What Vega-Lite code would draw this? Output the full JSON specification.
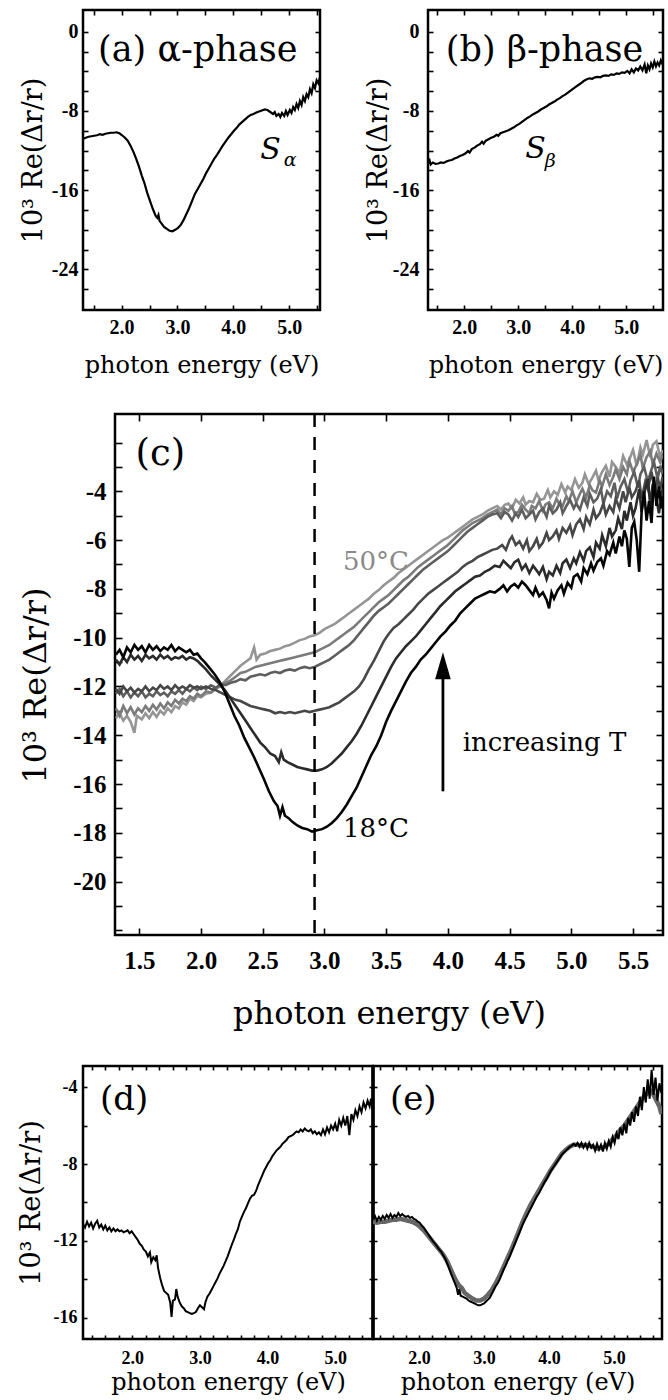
{
"$schema": "https://vega.github.io/schema/vega-lite/v6.json",
"background": "white",
"padding": {"left": 15, "top": 7, "right": 2, "bottom": 2},
"autosize": {"type": "pad"},
"datasets": {
"a": [{"E":1.31,"R":-10.8},{"E":1.36,"R":-10.7},{"E":1.41,"R":-10.6},{"E":1.46,"R":-10.55},{"E":1.51,"R":-10.5},{"E":1.56,"R":-10.45},{"E":1.61,"R":-10.35},{"E":1.66,"R":-10.4},{"E":1.71,"R":-10.3},{"E":1.76,"R":-10.25},{"E":1.81,"R":-10.2},{"E":1.86,"R":-10.2},{"E":1.91,"R":-10.15},{"E":1.96,"R":-10.25},{"E":2.01,"R":-10.45},{"E":2.06,"R":-10.7},{"E":2.11,"R":-11.0},{"E":2.16,"R":-11.5},{"E":2.21,"R":-12.1},{"E":2.26,"R":-12.8},{"E":2.31,"R":-13.6},{"E":2.36,"R":-14.5},{"E":2.41,"R":-15.3},{"E":2.46,"R":-16.3},{"E":2.51,"R":-17.1},{"E":2.56,"R":-17.9},{"E":2.61,"R":-18.6},{"E":2.64,"R":-18.8},{"E":2.66,"R":-18.5},{"E":2.68,"R":-19.1},{"E":2.72,"R":-19.4},{"E":2.76,"R":-19.7},{"E":2.81,"R":-19.9},{"E":2.86,"R":-20.1},{"E":2.91,"R":-20.15},{"E":2.96,"R":-20.0},{"E":3.01,"R":-19.8},{"E":3.06,"R":-19.5},{"E":3.11,"R":-19.0},{"E":3.16,"R":-18.4},{"E":3.21,"R":-17.8},{"E":3.26,"R":-17.1},{"E":3.31,"R":-16.4},{"E":3.36,"R":-15.9},{"E":3.41,"R":-15.4},{"E":3.46,"R":-14.9},{"E":3.51,"R":-14.3},{"E":3.56,"R":-13.8},{"E":3.61,"R":-13.3},{"E":3.66,"R":-12.8},{"E":3.71,"R":-12.4},{"E":3.76,"R":-11.95},{"E":3.81,"R":-11.5},{"E":3.86,"R":-11.1},{"E":3.91,"R":-10.7},{"E":3.96,"R":-10.35},{"E":4.01,"R":-10.0},{"E":4.06,"R":-9.7},{"E":4.11,"R":-9.35},{"E":4.16,"R":-9.1},{"E":4.21,"R":-8.85},{"E":4.26,"R":-8.6},{"E":4.31,"R":-8.4},{"E":4.36,"R":-8.3},{"E":4.41,"R":-8.15},{"E":4.46,"R":-8.05},{"E":4.51,"R":-7.95},{"E":4.56,"R":-7.85},{"E":4.61,"R":-7.9},{"E":4.66,"R":-8.1},{"E":4.71,"R":-8.3},{"E":4.74,"R":-8.1},{"E":4.77,"R":-8.5},{"E":4.81,"R":-8.3},{"E":4.84,"R":-8.6},{"E":4.87,"R":-8.2},{"E":4.91,"R":-8.5},{"E":4.94,"R":-8.0},{"E":4.97,"R":-8.4},{"E":5.01,"R":-7.9},{"E":5.04,"R":-8.2},{"E":5.07,"R":-7.6},{"E":5.1,"R":-7.9},{"E":5.13,"R":-7.3},{"E":5.16,"R":-7.7},{"E":5.19,"R":-7.0},{"E":5.22,"R":-7.4},{"E":5.25,"R":-6.6},{"E":5.28,"R":-7.0},{"E":5.31,"R":-6.3},{"E":5.34,"R":-6.6},{"E":5.37,"R":-5.8},{"E":5.4,"R":-6.2},{"E":5.43,"R":-5.3},{"E":5.46,"R":-5.7},{"E":5.49,"R":-4.9},{"E":5.52,"R":-5.2},{"E":5.55,"R":-4.6}],
"b": [{"E":1.33,"R":-13.3},{"E":1.36,"R":-13.0},{"E":1.38,"R":-13.4},{"E":1.42,"R":-13.2},{"E":1.47,"R":-13.35},{"E":1.52,"R":-13.3},{"E":1.57,"R":-13.2},{"E":1.62,"R":-13.25},{"E":1.67,"R":-13.1},{"E":1.72,"R":-13.0},{"E":1.77,"R":-12.95},{"E":1.82,"R":-12.8},{"E":1.87,"R":-12.7},{"E":1.92,"R":-12.55},{"E":1.97,"R":-12.45},{"E":2.02,"R":-12.3},{"E":2.07,"R":-12.05},{"E":2.1,"R":-12.2},{"E":2.14,"R":-11.85},{"E":2.19,"R":-11.7},{"E":2.24,"R":-11.5},{"E":2.29,"R":-11.35},{"E":2.33,"R":-11.1},{"E":2.36,"R":-11.3},{"E":2.4,"R":-11.0},{"E":2.45,"R":-10.85},{"E":2.5,"R":-10.7},{"E":2.55,"R":-10.6},{"E":2.6,"R":-10.4},{"E":2.63,"R":-10.5},{"E":2.67,"R":-10.25},{"E":2.72,"R":-10.15},{"E":2.77,"R":-10.05},{"E":2.82,"R":-9.95},{"E":2.87,"R":-9.8},{"E":2.92,"R":-9.65},{"E":2.97,"R":-9.45},{"E":3.02,"R":-9.3},{"E":3.07,"R":-9.1},{"E":3.12,"R":-8.9},{"E":3.17,"R":-8.7},{"E":3.22,"R":-8.55},{"E":3.27,"R":-8.35},{"E":3.32,"R":-8.2},{"E":3.37,"R":-8.05},{"E":3.42,"R":-7.85},{"E":3.47,"R":-7.7},{"E":3.52,"R":-7.55},{"E":3.57,"R":-7.35},{"E":3.62,"R":-7.2},{"E":3.67,"R":-7.05},{"E":3.72,"R":-6.85},{"E":3.77,"R":-6.7},{"E":3.82,"R":-6.5},{"E":3.87,"R":-6.35},{"E":3.92,"R":-6.15},{"E":3.97,"R":-5.95},{"E":4.02,"R":-5.75},{"E":4.07,"R":-5.55},{"E":4.12,"R":-5.35},{"E":4.17,"R":-5.15},{"E":4.22,"R":-4.95},{"E":4.27,"R":-4.8},{"E":4.32,"R":-4.7},{"E":4.37,"R":-4.75},{"E":4.42,"R":-4.6},{"E":4.47,"R":-4.55},{"E":4.52,"R":-4.6},{"E":4.57,"R":-4.45},{"E":4.62,"R":-4.4},{"E":4.67,"R":-4.45},{"E":4.72,"R":-4.3},{"E":4.77,"R":-4.35},{"E":4.82,"R":-4.2},{"E":4.87,"R":-4.25},{"E":4.92,"R":-4.1},{"E":4.97,"R":-4.15},{"E":5.02,"R":-3.95},{"E":5.06,"R":-4.2},{"E":5.1,"R":-3.8},{"E":5.14,"R":-4.1},{"E":5.18,"R":-3.7},{"E":5.22,"R":-3.9},{"E":5.26,"R":-3.5},{"E":5.3,"R":-3.9},{"E":5.34,"R":-3.3},{"E":5.37,"R":-4.2},{"E":5.4,"R":-3.4},{"E":5.43,"R":-3.8},{"E":5.46,"R":-3.2},{"E":5.49,"R":-3.6},{"E":5.52,"R":-3.0},{"E":5.55,"R":-3.5},{"E":5.58,"R":-3.1},{"E":5.61,"R":-3.4},{"E":5.64,"R":-2.9},{"E":5.67,"R":-3.3}],
"c": [
{"k":1,"E":1.31,"R":-13.3},{"k":1,"E":1.34,"R":-13.1},{"k":1,"E":1.37,"R":-13.4},{"k":1,"E":1.4,"R":-13.2},{"k":1,"E":1.43,"R":-13.45},{"k":1,"E":1.46,"R":-13.9},{"k":1,"E":1.48,"R":-13.2},{"k":1,"E":1.52,"R":-13.35},{"k":1,"E":1.55,"R":-13.1},{"k":1,"E":1.58,"R":-13.3},{"k":1,"E":1.61,"R":-13.05},{"k":1,"E":1.64,"R":-13.25},{"k":1,"E":1.67,"R":-13.0},{"k":1,"E":1.7,"R":-13.15},{"k":1,"E":1.73,"R":-12.9},{"k":1,"E":1.76,"R":-13.05},{"k":1,"E":1.79,"R":-12.8},{"k":1,"E":1.82,"R":-12.9},{"k":1,"E":1.85,"R":-12.65},{"k":1,"E":1.88,"R":-12.75},{"k":1,"E":1.91,"R":-12.5},{"k":1,"E":1.94,"R":-12.6},{"k":1,"E":1.97,"R":-12.4},{"k":1,"E":2.0,"R":-12.45},{"k":1,"E":2.04,"R":-12.3},{"k":1,"E":2.08,"R":-12.25},{"k":1,"E":2.12,"R":-12.1},{"k":1,"E":2.16,"R":-11.95},{"k":1,"E":2.2,"R":-11.75},{"k":1,"E":2.24,"R":-11.55},{"k":1,"E":2.28,"R":-11.35},{"k":1,"E":2.32,"R":-11.15},{"k":1,"E":2.36,"R":-11.0},{"k":1,"E":2.4,"R":-10.85},{"k":1,"E":2.43,"R":-10.4},{"k":1,"E":2.45,"R":-10.9},{"k":1,"E":2.48,"R":-10.7},{"k":1,"E":2.52,"R":-10.65},{"k":1,"E":2.56,"R":-10.55},{"k":1,"E":2.6,"R":-10.5},{"k":1,"E":2.64,"R":-10.45},{"k":1,"E":2.68,"R":-10.35},{"k":1,"E":2.72,"R":-10.3},{"k":1,"E":2.76,"R":-10.2},{"k":1,"E":2.8,"R":-10.1},{"k":1,"E":2.84,"R":-10.05},{"k":1,"E":2.88,"R":-9.95},{"k":1,"E":2.92,"R":-9.9},{"k":1,"E":2.96,"R":-9.8},{"k":1,"E":3.0,"R":-9.65},{"k":1,"E":3.04,"R":-9.55},{"k":1,"E":3.08,"R":-9.45},{"k":1,"E":3.12,"R":-9.3},{"k":1,"E":3.16,"R":-9.15},{"k":1,"E":3.2,"R":-9.0},{"k":1,"E":3.24,"R":-8.85},{"k":1,"E":3.28,"R":-8.7},{"k":1,"E":3.32,"R":-8.55},{"k":1,"E":3.36,"R":-8.4},{"k":1,"E":3.4,"R":-8.2},{"k":1,"E":3.44,"R":-8.05},{"k":1,"E":3.48,"R":-7.85},{"k":1,"E":3.52,"R":-7.7},{"k":1,"E":3.56,"R":-7.55},{"k":1,"E":3.6,"R":-7.35},{"k":1,"E":3.64,"R":-7.2},{"k":1,"E":3.68,"R":-7.05},{"k":1,"E":3.72,"R":-6.9},{"k":1,"E":3.76,"R":-6.75},{"k":1,"E":3.8,"R":-6.6},{"k":1,"E":3.84,"R":-6.45},{"k":1,"E":3.88,"R":-6.3},{"k":1,"E":3.92,"R":-6.15},{"k":1,"E":3.96,"R":-6.0},{"k":1,"E":4.0,"R":-5.9},{"k":1,"E":4.04,"R":-5.75},{"k":1,"E":4.08,"R":-5.6},{"k":1,"E":4.12,"R":-5.45},{"k":1,"E":4.16,"R":-5.3},{"k":1,"E":4.2,"R":-5.15},{"k":1,"E":4.24,"R":-5.05},{"k":1,"E":4.28,"R":-4.95},{"k":1,"E":4.32,"R":-4.8},{"k":1,"E":4.36,"R":-4.7},
{"k":1,"E":4.4,"R":-4.6},{"k":1,"E":4.43,"R":-4.75},{"k":1,"E":4.46,"R":-4.55},{"k":1,"E":4.49,"R":-4.5},{"k":1,"E":4.52,"R":-4.7},{"k":1,"E":4.55,"R":-4.35},{"k":1,"E":4.58,"R":-4.5},{"k":1,"E":4.61,"R":-4.25},{"k":1,"E":4.63,"R":-4.55},{"k":1,"E":4.66,"R":-4.4},{"k":1,"E":4.69,"R":-4.45},{"k":1,"E":4.72,"R":-4.1},{"k":1,"E":4.75,"R":-4.35},{"k":1,"E":4.78,"R":-4.3},{"k":1,"E":4.81,"R":-3.95},{"k":1,"E":4.83,"R":-4.25},{"k":1,"E":4.86,"R":-4.0},{"k":1,"E":4.89,"R":-4.15},{"k":1,"E":4.92,"R":-3.7},{"k":1,"E":4.95,"R":-4.05},{"k":1,"E":4.97,"R":-3.8},{"k":1,"E":5.0,"R":-3.95},{"k":1,"E":5.03,"R":-3.5},{"k":1,"E":5.06,"R":-3.85},{"k":1,"E":5.09,"R":-3.65},{"k":1,"E":5.11,"R":-3.3},{"k":1,"E":5.14,"R":-3.7},{"k":1,"E":5.17,"R":-3.45},{"k":1,"E":5.2,"R":-3.15},{"k":1,"E":5.22,"R":-3.55},{"k":1,"E":5.25,"R":-3.2},{"k":1,"E":5.28,"R":-2.95},{"k":1,"E":5.31,"R":-3.4},{"k":1,"E":5.33,"R":-2.8},{"k":1,"E":5.36,"R":-3.0},{"k":1,"E":5.39,"R":-3.25},{"k":1,"E":5.42,"R":-2.55},{"k":1,"E":5.45,"R":-2.9},{"k":1,"E":5.47,"R":-2.7},{"k":1,"E":5.5,"R":-2.3},{"k":1,"E":5.53,"R":-2.95},{"k":1,"E":5.56,"R":-2.2},{"k":1,"E":5.58,"R":-2.5},{"k":1,"E":5.61,"R":-1.9},{"k":1,"E":5.64,"R":-2.6},{"k":1,"E":5.66,"R":-2.1},{"k":1,"E":5.69,"R":-1.95},{"k":1,"E":5.72,"R":-2.6},{"k":1,"E":5.74,"R":-2.3},
{"k":2,"E":1.31,"R":-12.9},{"k":2,"E":1.34,"R":-13.2},{"k":2,"E":1.37,"R":-12.8},{"k":2,"E":1.4,"R":-13.1},{"k":2,"E":1.43,"R":-12.85},{"k":2,"E":1.46,"R":-13.15},{"k":2,"E":1.49,"R":-12.9},{"k":2,"E":1.52,"R":-13.05},{"k":2,"E":1.55,"R":-12.8},{"k":2,"E":1.58,"R":-13.0},{"k":2,"E":1.61,"R":-12.75},{"k":2,"E":1.64,"R":-12.95},{"k":2,"E":1.67,"R":-12.7},{"k":2,"E":1.7,"R":-12.9},{"k":2,"E":1.73,"R":-12.65},{"k":2,"E":1.76,"R":-12.8},{"k":2,"E":1.79,"R":-12.55},{"k":2,"E":1.82,"R":-12.7},{"k":2,"E":1.85,"R":-12.5},{"k":2,"E":1.88,"R":-12.6},{"k":2,"E":1.91,"R":-12.4},{"k":2,"E":1.94,"R":-12.5},{"k":2,"E":1.97,"R":-12.3},{"k":2,"E":2.0,"R":-12.4},{"k":2,"E":2.04,"R":-12.2},{"k":2,"E":2.08,"R":-12.25},{"k":2,"E":2.12,"R":-12.05},{"k":2,"E":2.16,"R":-12.0},{"k":2,"E":2.2,"R":-11.85},{"k":2,"E":2.24,"R":-11.75},{"k":2,"E":2.28,"R":-11.6},{"k":2,"E":2.32,"R":-11.45},{"k":2,"E":2.36,"R":-11.4},{"k":2,"E":2.4,"R":-11.3},{"k":2,"E":2.44,"R":-11.2},{"k":2,"E":2.48,"R":-11.15},{"k":2,"E":2.52,"R":-11.1},{"k":2,"E":2.56,"R":-11.05},{"k":2,"E":2.6,"R":-11.0},{"k":2,"E":2.64,"R":-10.95},{"k":2,"E":2.68,"R":-10.9},{"k":2,"E":2.72,"R":-10.85},{"k":2,"E":2.76,"R":-10.8},{"k":2,"E":2.8,"R":-10.75},{"k":2,"E":2.84,"R":-10.7},{"k":2,"E":2.88,"R":-10.65},{"k":2,"E":2.92,"R":-10.6},{"k":2,"E":2.96,"R":-10.5},{"k":2,"E":3.0,"R":-10.4},{"k":2,"E":3.04,"R":-10.3},{"k":2,"E":3.08,"R":-10.15},{"k":2,"E":3.12,"R":-10.0},{"k":2,"E":3.16,"R":-9.85},{"k":2,"E":3.2,"R":-9.7},{"k":2,"E":3.24,"R":-9.55},{"k":2,"E":3.28,"R":-9.35},{"k":2,"E":3.32,"R":-9.15},{"k":2,"E":3.36,"R":-8.95},{"k":2,"E":3.4,"R":-8.75},{"k":2,"E":3.44,"R":-8.55},{"k":2,"E":3.48,"R":-8.4},{"k":2,"E":3.52,"R":-8.25},{"k":2,"E":3.56,"R":-8.05},{"k":2,"E":3.6,"R":-7.85},{"k":2,"E":3.64,"R":-7.65},{"k":2,"E":3.68,"R":-7.5},{"k":2,"E":3.72,"R":-7.3},{"k":2,"E":3.76,"R":-7.1},{"k":2,"E":3.8,"R":-6.95},{"k":2,"E":3.84,"R":-6.8},{"k":2,"E":3.88,"R":-6.65},{"k":2,"E":3.92,"R":-6.5},{"k":2,"E":3.96,"R":-6.35},{"k":2,"E":4.0,"R":-6.2},{"k":2,"E":4.04,"R":-6.0},{"k":2,"E":4.08,"R":-5.8},{"k":2,"E":4.12,"R":-5.6},{"k":2,"E":4.16,"R":-5.45},{"k":2,"E":4.2,"R":-5.3},{"k":2,"E":4.24,"R":-5.2},{"k":2,"E":4.28,"R":-5.1},{"k":2,"E":4.32,"R":-4.95},{"k":2,"E":4.36,"R":-4.85},
{"k":2,"E":4.4,"R":-4.75},{"k":2,"E":4.43,"R":-4.95},{"k":2,"E":4.46,"R":-4.7},{"k":2,"E":4.49,"R":-4.8},{"k":2,"E":4.52,"R":-4.6},{"k":2,"E":4.54,"R":-4.9},{"k":2,"E":4.57,"R":-4.85},{"k":2,"E":4.6,"R":-4.55},{"k":2,"E":4.63,"R":-4.75},{"k":2,"E":4.66,"R":-4.9},{"k":2,"E":4.68,"R":-4.6},{"k":2,"E":4.71,"R":-4.7},{"k":2,"E":4.74,"R":-4.4},{"k":2,"E":4.77,"R":-4.8},{"k":2,"E":4.79,"R":-4.55},{"k":2,"E":4.82,"R":-4.45},{"k":2,"E":4.85,"R":-4.7},{"k":2,"E":4.88,"R":-4.3},{"k":2,"E":4.9,"R":-4.5},{"k":2,"E":4.93,"R":-4.6},{"k":2,"E":4.96,"R":-4.2},{"k":2,"E":4.98,"R":-4.4},{"k":2,"E":5.01,"R":-4.0},{"k":2,"E":5.04,"R":-4.45},{"k":2,"E":5.07,"R":-4.1},{"k":2,"E":5.09,"R":-3.9},{"k":2,"E":5.12,"R":-4.25},{"k":2,"E":5.15,"R":-3.75},{"k":2,"E":5.17,"R":-3.95},{"k":2,"E":5.2,"R":-4.05},{"k":2,"E":5.23,"R":-3.55},{"k":2,"E":5.25,"R":-3.8},{"k":2,"E":5.28,"R":-3.3},{"k":2,"E":5.31,"R":-3.75},{"k":2,"E":5.34,"R":-3.4},{"k":2,"E":5.36,"R":-3.1},{"k":2,"E":5.39,"R":-3.5},{"k":2,"E":5.42,"R":-3.0},{"k":2,"E":5.45,"R":-3.3},{"k":2,"E":5.47,"R":-2.75},{"k":2,"E":5.5,"R":-3.2},{"k":2,"E":5.53,"R":-2.9},{"k":2,"E":5.56,"R":-2.5},{"k":2,"E":5.58,"R":-3.05},{"k":2,"E":5.61,"R":-2.6},{"k":2,"E":5.64,"R":-2.35},{"k":2,"E":5.66,"R":-2.9},{"k":2,"E":5.69,"R":-2.45},{"k":2,"E":5.72,"R":-2.8},{"k":2,"E":5.74,"R":-2.5},
{"k":3,"E":1.31,"R":-12.3},{"k":3,"E":1.34,"R":-12.1},{"k":3,"E":1.37,"R":-12.4},{"k":3,"E":1.4,"R":-12.2},{"k":3,"E":1.43,"R":-12.45},{"k":3,"E":1.46,"R":-12.25},{"k":3,"E":1.49,"R":-12.4},{"k":3,"E":1.52,"R":-12.2},{"k":3,"E":1.55,"R":-12.45},{"k":3,"E":1.58,"R":-12.3},{"k":3,"E":1.61,"R":-12.4},{"k":3,"E":1.64,"R":-12.2},{"k":3,"E":1.67,"R":-12.35},{"k":3,"E":1.7,"R":-12.25},{"k":3,"E":1.73,"R":-12.4},{"k":3,"E":1.76,"R":-12.2},{"k":3,"E":1.79,"R":-12.3},{"k":3,"E":1.82,"R":-12.15},{"k":3,"E":1.85,"R":-12.3},{"k":3,"E":1.88,"R":-12.1},{"k":3,"E":1.91,"R":-12.2},{"k":3,"E":1.94,"R":-12.05},{"k":3,"E":1.97,"R":-12.15},{"k":3,"E":2.0,"R":-12.0},{"k":3,"E":2.04,"R":-12.1},{"k":3,"E":2.08,"R":-11.95},{"k":3,"E":2.12,"R":-12.05},{"k":3,"E":2.16,"R":-11.9},{"k":3,"E":2.2,"R":-11.95},{"k":3,"E":2.24,"R":-11.85},{"k":3,"E":2.28,"R":-11.8},{"k":3,"E":2.32,"R":-11.7},{"k":3,"E":2.36,"R":-11.75},{"k":3,"E":2.4,"R":-11.6},{"k":3,"E":2.44,"R":-11.55},{"k":3,"E":2.48,"R":-11.5},{"k":3,"E":2.52,"R":-11.55},{"k":3,"E":2.56,"R":-11.45},{"k":3,"E":2.6,"R":-11.4},{"k":3,"E":2.64,"R":-11.45},{"k":3,"E":2.68,"R":-11.35},{"k":3,"E":2.72,"R":-11.3},{"k":3,"E":2.76,"R":-11.35},{"k":3,"E":2.8,"R":-11.25},{"k":3,"E":2.84,"R":-11.2},{"k":3,"E":2.88,"R":-11.25},{"k":3,"E":2.92,"R":-11.2},{"k":3,"E":2.96,"R":-11.1},{"k":3,"E":3.0,"R":-11.0},{"k":3,"E":3.04,"R":-10.9},{"k":3,"E":3.08,"R":-10.75},{"k":3,"E":3.12,"R":-10.6},{"k":3,"E":3.16,"R":-10.45},{"k":3,"E":3.2,"R":-10.3},{"k":3,"E":3.24,"R":-10.1},{"k":3,"E":3.28,"R":-9.85},{"k":3,"E":3.32,"R":-9.6},{"k":3,"E":3.36,"R":-9.35},{"k":3,"E":3.4,"R":-9.1},{"k":3,"E":3.44,"R":-8.9},{"k":3,"E":3.48,"R":-8.75},{"k":3,"E":3.52,"R":-8.6},{"k":3,"E":3.56,"R":-8.4},{"k":3,"E":3.6,"R":-8.2},{"k":3,"E":3.64,"R":-8.0},{"k":3,"E":3.68,"R":-7.8},{"k":3,"E":3.72,"R":-7.6},{"k":3,"E":3.76,"R":-7.4},{"k":3,"E":3.8,"R":-7.2},{"k":3,"E":3.84,"R":-7.05},{"k":3,"E":3.88,"R":-6.9},{"k":3,"E":3.92,"R":-6.75},{"k":3,"E":3.96,"R":-6.6},{"k":3,"E":4.0,"R":-6.45},{"k":3,"E":4.04,"R":-6.25},{"k":3,"E":4.08,"R":-6.05},{"k":3,"E":4.12,"R":-5.85},{"k":3,"E":4.16,"R":-5.65},{"k":3,"E":4.2,"R":-5.5},{"k":3,"E":4.24,"R":-5.35},{"k":3,"E":4.28,"R":-5.2},{"k":3,"E":4.32,"R":-5.05},{"k":3,"E":4.36,"R":-4.95},
{"k":3,"E":4.4,"R":-4.9},{"k":3,"E":4.43,"R":-5.1},{"k":3,"E":4.46,"R":-4.85},{"k":3,"E":4.49,"R":-4.95},{"k":3,"E":4.52,"R":-5.2},{"k":3,"E":4.55,"R":-4.9},{"k":3,"E":4.57,"R":-5.05},{"k":3,"E":4.6,"R":-4.75},{"k":3,"E":4.63,"R":-5.1},{"k":3,"E":4.66,"R":-4.95},{"k":3,"E":4.69,"R":-4.8},{"k":3,"E":4.71,"R":-5.15},{"k":3,"E":4.74,"R":-4.85},{"k":3,"E":4.77,"R":-4.7},{"k":3,"E":4.8,"R":-5.05},{"k":3,"E":4.82,"R":-4.6},{"k":3,"E":4.85,"R":-4.9},{"k":3,"E":4.88,"R":-4.75},{"k":3,"E":4.91,"R":-4.45},{"k":3,"E":4.93,"R":-4.9},{"k":3,"E":4.96,"R":-4.6},{"k":3,"E":4.99,"R":-4.35},{"k":3,"E":5.02,"R":-4.7},{"k":3,"E":5.04,"R":-4.5},{"k":3,"E":5.07,"R":-4.75},{"k":3,"E":5.1,"R":-4.25},{"k":3,"E":5.13,"R":-4.6},{"k":3,"E":5.15,"R":-4.1},{"k":3,"E":5.18,"R":-4.45},{"k":3,"E":5.21,"R":-4.3},{"k":3,"E":5.24,"R":-3.9},{"k":3,"E":5.26,"R":-4.5},{"k":3,"E":5.29,"R":-4.0},{"k":3,"E":5.32,"R":-4.2},{"k":3,"E":5.35,"R":-3.65},{"k":3,"E":5.37,"R":-4.3},{"k":3,"E":5.4,"R":-3.8},{"k":3,"E":5.43,"R":-3.5},{"k":3,"E":5.46,"R":-4.05},{"k":3,"E":5.48,"R":-3.55},{"k":3,"E":5.51,"R":-3.2},{"k":3,"E":5.54,"R":-3.85},{"k":3,"E":5.56,"R":-3.3},{"k":3,"E":5.59,"R":-3.0},{"k":3,"E":5.62,"R":-3.6},{"k":3,"E":5.65,"R":-3.1},{"k":3,"E":5.67,"R":-2.8},{"k":3,"E":5.7,"R":-3.5},{"k":3,"E":5.72,"R":-2.95},{"k":3,"E":5.74,"R":-3.3},
{"k":4,"E":1.31,"R":-12.1},{"k":4,"E":1.34,"R":-12.3},{"k":4,"E":1.37,"R":-12.0},{"k":4,"E":1.4,"R":-12.2},{"k":4,"E":1.43,"R":-12.05},{"k":4,"E":1.46,"R":-12.25},{"k":4,"E":1.49,"R":-12.1},{"k":4,"E":1.52,"R":-12.2},{"k":4,"E":1.55,"R":-12.0},{"k":4,"E":1.58,"R":-12.2},{"k":4,"E":1.61,"R":-12.05},{"k":4,"E":1.64,"R":-12.15},{"k":4,"E":1.67,"R":-11.95},{"k":4,"E":1.7,"R":-12.1},{"k":4,"E":1.73,"R":-12.0},{"k":4,"E":1.76,"R":-12.15},{"k":4,"E":1.79,"R":-11.95},{"k":4,"E":1.82,"R":-12.1},{"k":4,"E":1.85,"R":-12.0},{"k":4,"E":1.88,"R":-12.1},{"k":4,"E":1.91,"R":-11.95},{"k":4,"E":1.94,"R":-12.05},{"k":4,"E":1.97,"R":-12.0},{"k":4,"E":2.0,"R":-12.1},{"k":4,"E":2.04,"R":-12.0},{"k":4,"E":2.08,"R":-12.1},{"k":4,"E":2.12,"R":-12.15},{"k":4,"E":2.16,"R":-12.25},{"k":4,"E":2.2,"R":-12.35},{"k":4,"E":2.24,"R":-12.45},{"k":4,"E":2.28,"R":-12.55},{"k":4,"E":2.32,"R":-12.6},{"k":4,"E":2.36,"R":-12.7},{"k":4,"E":2.4,"R":-12.8},{"k":4,"E":2.44,"R":-12.85},{"k":4,"E":2.48,"R":-12.9},{"k":4,"E":2.52,"R":-12.95},{"k":4,"E":2.56,"R":-13.0},{"k":4,"E":2.6,"R":-13.1},{"k":4,"E":2.64,"R":-13.05},{"k":4,"E":2.68,"R":-13.1},{"k":4,"E":2.72,"R":-13.05},{"k":4,"E":2.76,"R":-13.1},{"k":4,"E":2.8,"R":-13.05},{"k":4,"E":2.84,"R":-13.0},{"k":4,"E":2.88,"R":-13.05},{"k":4,"E":2.92,"R":-13.0},{"k":4,"E":2.96,"R":-12.95},{"k":4,"E":3.0,"R":-12.9},{"k":4,"E":3.04,"R":-12.85},{"k":4,"E":3.08,"R":-12.75},{"k":4,"E":3.12,"R":-12.65},{"k":4,"E":3.16,"R":-12.5},{"k":4,"E":3.2,"R":-12.35},{"k":4,"E":3.24,"R":-12.2},{"k":4,"E":3.28,"R":-12.0},{"k":4,"E":3.32,"R":-11.7},{"k":4,"E":3.36,"R":-11.3},{"k":4,"E":3.4,"R":-10.95},{"k":4,"E":3.44,"R":-10.55},{"k":4,"E":3.48,"R":-10.15},{"k":4,"E":3.52,"R":-9.85},{"k":4,"E":3.56,"R":-9.6},{"k":4,"E":3.6,"R":-9.45},{"k":4,"E":3.64,"R":-9.25},{"k":4,"E":3.68,"R":-9.05},{"k":4,"E":3.72,"R":-8.85},{"k":4,"E":3.76,"R":-8.6},{"k":4,"E":3.8,"R":-8.4},{"k":4,"E":3.84,"R":-8.2},{"k":4,"E":3.88,"R":-8.05},{"k":4,"E":3.92,"R":-7.9},{"k":4,"E":3.96,"R":-7.75},{"k":4,"E":4.0,"R":-7.6},{"k":4,"E":4.04,"R":-7.45},{"k":4,"E":4.08,"R":-7.3},{"k":4,"E":4.12,"R":-7.1},{"k":4,"E":4.16,"R":-6.95},{"k":4,"E":4.2,"R":-6.85},{"k":4,"E":4.24,"R":-6.7},{"k":4,"E":4.28,"R":-6.6},{"k":4,"E":4.32,"R":-6.5},{"k":4,"E":4.36,"R":-6.4},
{"k":4,"E":4.4,"R":-6.35},{"k":4,"E":4.44,"R":-6.2},{"k":4,"E":4.47,"R":-6.4},{"k":4,"E":4.5,"R":-6.0},{"k":4,"E":4.52,"R":-5.85},{"k":4,"E":4.55,"R":-6.2},{"k":4,"E":4.58,"R":-6.05},{"k":4,"E":4.61,"R":-6.35},{"k":4,"E":4.64,"R":-6.0},{"k":4,"E":4.66,"R":-6.45},{"k":4,"E":4.69,"R":-6.25},{"k":4,"E":4.72,"R":-5.95},{"k":4,"E":4.74,"R":-6.3},{"k":4,"E":4.77,"R":-6.1},{"k":4,"E":4.8,"R":-5.7},{"k":4,"E":4.82,"R":-6.0},{"k":4,"E":4.85,"R":-5.85},{"k":4,"E":4.88,"R":-5.6},{"k":4,"E":4.9,"R":-5.95},{"k":4,"E":4.93,"R":-5.5},{"k":4,"E":4.96,"R":-5.7},{"k":4,"E":4.99,"R":-5.4},{"k":4,"E":5.01,"R":-5.8},{"k":4,"E":5.04,"R":-5.35},{"k":4,"E":5.07,"R":-5.15},{"k":4,"E":5.1,"R":-5.55},{"k":4,"E":5.12,"R":-5.05},{"k":4,"E":5.15,"R":-5.35},{"k":4,"E":5.18,"R":-4.75},{"k":4,"E":5.2,"R":-5.1},{"k":4,"E":5.23,"R":-4.9},{"k":4,"E":5.26,"R":-4.5},{"k":4,"E":5.28,"R":-4.95},{"k":4,"E":5.31,"R":-4.6},{"k":4,"E":5.34,"R":-4.85},{"k":4,"E":5.36,"R":-4.3},{"k":4,"E":5.39,"R":-4.7},{"k":4,"E":5.42,"R":-4.0},{"k":4,"E":5.44,"R":-4.45},{"k":4,"E":5.47,"R":-3.85},{"k":4,"E":5.49,"R":-4.25},{"k":4,"E":5.52,"R":-4.0},{"k":4,"E":5.55,"R":-3.55},{"k":4,"E":5.57,"R":-4.3},{"k":4,"E":5.6,"R":-3.6},{"k":4,"E":5.62,"R":-3.9},{"k":4,"E":5.65,"R":-3.2},{"k":4,"E":5.68,"R":-4.1},{"k":4,"E":5.7,"R":-3.45},{"k":4,"E":5.72,"R":-3.9},{"k":4,"E":5.74,"R":-3.4},
{"k":5,"E":1.31,"R":-10.9},{"k":5,"E":1.34,"R":-11.1},{"k":5,"E":1.37,"R":-10.8},{"k":5,"E":1.4,"R":-11.0},{"k":5,"E":1.43,"R":-10.7},{"k":5,"E":1.46,"R":-10.9},{"k":5,"E":1.49,"R":-10.75},{"k":5,"E":1.52,"R":-10.95},{"k":5,"E":1.55,"R":-10.7},{"k":5,"E":1.58,"R":-10.85},{"k":5,"E":1.61,"R":-10.75},{"k":5,"E":1.64,"R":-10.9},{"k":5,"E":1.67,"R":-10.7},{"k":5,"E":1.7,"R":-10.85},{"k":5,"E":1.73,"R":-10.75},{"k":5,"E":1.76,"R":-10.9},{"k":5,"E":1.79,"R":-10.8},{"k":5,"E":1.82,"R":-10.85},{"k":5,"E":1.85,"R":-10.75},{"k":5,"E":1.88,"R":-10.9},{"k":5,"E":1.91,"R":-10.8},{"k":5,"E":1.94,"R":-10.85},{"k":5,"E":1.97,"R":-10.95},{"k":5,"E":2.0,"R":-11.1},{"k":5,"E":2.04,"R":-11.3},{"k":5,"E":2.08,"R":-11.55},{"k":5,"E":2.12,"R":-11.75},{"k":5,"E":2.16,"R":-11.95},{"k":5,"E":2.2,"R":-12.2},{"k":5,"E":2.24,"R":-12.5},{"k":5,"E":2.28,"R":-12.8},{"k":5,"E":2.32,"R":-13.1},{"k":5,"E":2.36,"R":-13.4},{"k":5,"E":2.4,"R":-13.7},{"k":5,"E":2.44,"R":-14.0},{"k":5,"E":2.48,"R":-14.3},{"k":5,"E":2.52,"R":-14.5},{"k":5,"E":2.56,"R":-14.75},{"k":5,"E":2.6,"R":-14.85},{"k":5,"E":2.63,"R":-15.1},{"k":5,"E":2.65,"R":-14.7},{"k":5,"E":2.67,"R":-15.0},{"k":5,"E":2.7,"R":-15.1},{"k":5,"E":2.74,"R":-15.2},{"k":5,"E":2.78,"R":-15.3},{"k":5,"E":2.82,"R":-15.35},{"k":5,"E":2.86,"R":-15.4},{"k":5,"E":2.9,"R":-15.45},{"k":5,"E":2.94,"R":-15.45},{"k":5,"E":2.98,"R":-15.4},{"k":5,"E":3.02,"R":-15.3},{"k":5,"E":3.06,"R":-15.15},{"k":5,"E":3.1,"R":-14.95},{"k":5,"E":3.14,"R":-14.75},{"k":5,"E":3.18,"R":-14.5},{"k":5,"E":3.22,"R":-14.25},{"k":5,"E":3.26,"R":-13.95},{"k":5,"E":3.3,"R":-13.6},{"k":5,"E":3.34,"R":-13.2},{"k":5,"E":3.38,"R":-12.8},{"k":5,"E":3.42,"R":-12.4},{"k":5,"E":3.46,"R":-12.0},{"k":5,"E":3.5,"R":-11.6},{"k":5,"E":3.54,"R":-11.2},{"k":5,"E":3.58,"R":-10.85},{"k":5,"E":3.62,"R":-10.6},{"k":5,"E":3.66,"R":-10.35},{"k":5,"E":3.7,"R":-10.15},{"k":5,"E":3.74,"R":-9.95},{"k":5,"E":3.78,"R":-9.7},{"k":5,"E":3.82,"R":-9.45},{"k":5,"E":3.86,"R":-9.2},{"k":5,"E":3.9,"R":-8.95},{"k":5,"E":3.94,"R":-8.7},{"k":5,"E":3.98,"R":-8.5},{"k":5,"E":4.02,"R":-8.3},{"k":5,"E":4.06,"R":-8.1},{"k":5,"E":4.1,"R":-7.95},{"k":5,"E":4.14,"R":-7.8},{"k":5,"E":4.18,"R":-7.65},{"k":5,"E":4.22,"R":-7.5},{"k":5,"E":4.26,"R":-7.45},{"k":5,"E":4.3,"R":-7.3},{"k":5,"E":4.34,"R":-7.2},{"k":5,"E":4.38,"R":-7.05},
{"k":5,"E":4.42,"R":-7.1},{"k":5,"E":4.45,"R":-6.85},{"k":5,"E":4.48,"R":-7.0},{"k":5,"E":4.51,"R":-7.15},{"k":5,"E":4.54,"R":-6.9},{"k":5,"E":4.57,"R":-6.8},{"k":5,"E":4.6,"R":-7.2},{"k":5,"E":4.63,"R":-7.0},{"k":5,"E":4.66,"R":-7.35},{"k":5,"E":4.69,"R":-7.05},{"k":5,"E":4.72,"R":-7.25},{"k":5,"E":4.74,"R":-7.4},{"k":5,"E":4.77,"R":-7.1},{"k":5,"E":4.8,"R":-7.6},{"k":5,"E":4.82,"R":-7.3},{"k":5,"E":4.85,"R":-7.45},{"k":5,"E":4.88,"R":-7.05},{"k":5,"E":4.91,"R":-7.35},{"k":5,"E":4.93,"R":-6.95},{"k":5,"E":4.96,"R":-6.8},{"k":5,"E":4.99,"R":-7.15},{"k":5,"E":5.02,"R":-6.75},{"k":5,"E":5.04,"R":-6.95},{"k":5,"E":5.07,"R":-6.5},{"k":5,"E":5.1,"R":-6.85},{"k":5,"E":5.12,"R":-6.45},{"k":5,"E":5.15,"R":-6.3},{"k":5,"E":5.18,"R":-6.7},{"k":5,"E":5.2,"R":-6.1},{"k":5,"E":5.23,"R":-6.35},{"k":5,"E":5.25,"R":-5.8},{"k":5,"E":5.28,"R":-6.25},{"k":5,"E":5.31,"R":-5.5},{"k":5,"E":5.33,"R":-5.85},{"k":5,"E":5.36,"R":-5.6},{"k":5,"E":5.38,"R":-5.1},{"k":5,"E":5.41,"R":-5.55},{"k":5,"E":5.43,"R":-4.8},{"k":5,"E":5.45,"R":-5.2},{"k":5,"E":5.48,"R":-4.45},{"k":5,"E":5.5,"R":-5.0},{"k":5,"E":5.52,"R":-4.7},{"k":5,"E":5.55,"R":-3.9},{"k":5,"E":5.57,"R":-4.85},{"k":5,"E":5.59,"R":-4.1},{"k":5,"E":5.62,"R":-3.5},{"k":5,"E":5.64,"R":-4.6},{"k":5,"E":5.66,"R":-3.7},{"k":5,"E":5.69,"R":-4.3},{"k":5,"E":5.71,"R":-4.9},{"k":5,"E":5.74,"R":-3.9},
{"k":6,"E":1.31,"R":-10.7},{"k":6,"E":1.34,"R":-10.5},{"k":6,"E":1.37,"R":-10.8},{"k":6,"E":1.4,"R":-10.4},{"k":6,"E":1.43,"R":-10.6},{"k":6,"E":1.46,"R":-10.3},{"k":6,"E":1.49,"R":-10.5},{"k":6,"E":1.52,"R":-10.35},{"k":6,"E":1.55,"R":-10.6},{"k":6,"E":1.58,"R":-10.3},{"k":6,"E":1.61,"R":-10.5},{"k":6,"E":1.64,"R":-10.35},{"k":6,"E":1.67,"R":-10.55},{"k":6,"E":1.7,"R":-10.4},{"k":6,"E":1.73,"R":-10.5},{"k":6,"E":1.76,"R":-10.3},{"k":6,"E":1.79,"R":-10.55},{"k":6,"E":1.82,"R":-10.4},{"k":6,"E":1.85,"R":-10.5},{"k":6,"E":1.88,"R":-10.6},{"k":6,"E":1.91,"R":-10.5},{"k":6,"E":1.94,"R":-10.7},{"k":6,"E":1.97,"R":-10.65},{"k":6,"E":2.0,"R":-10.85},{"k":6,"E":2.03,"R":-11.0},{"k":6,"E":2.07,"R":-11.25},{"k":6,"E":2.11,"R":-11.5},{"k":6,"E":2.15,"R":-11.8},{"k":6,"E":2.19,"R":-12.2},{"k":6,"E":2.23,"R":-12.7},{"k":6,"E":2.27,"R":-13.2},{"k":6,"E":2.31,"R":-13.6},{"k":6,"E":2.35,"R":-14.1},{"k":6,"E":2.39,"R":-14.5},{"k":6,"E":2.43,"R":-14.9},{"k":6,"E":2.47,"R":-15.35},{"k":6,"E":2.51,"R":-15.8},{"k":6,"E":2.55,"R":-16.3},{"k":6,"E":2.59,"R":-16.7},{"k":6,"E":2.62,"R":-16.9},{"k":6,"E":2.64,"R":-17.3},{"k":6,"E":2.66,"R":-16.95},{"k":6,"E":2.68,"R":-17.3},{"k":6,"E":2.71,"R":-17.4},{"k":6,"E":2.74,"R":-17.55},{"k":6,"E":2.78,"R":-17.7},{"k":6,"E":2.82,"R":-17.8},{"k":6,"E":2.86,"R":-17.85},{"k":6,"E":2.9,"R":-17.95},{"k":6,"E":2.94,"R":-17.9},{"k":6,"E":2.98,"R":-17.85},{"k":6,"E":3.02,"R":-17.75},{"k":6,"E":3.06,"R":-17.6},{"k":6,"E":3.1,"R":-17.4},{"k":6,"E":3.14,"R":-17.15},{"k":6,"E":3.18,"R":-16.85},{"k":6,"E":3.22,"R":-16.5},{"k":6,"E":3.26,"R":-16.15},{"k":6,"E":3.3,"R":-15.7},{"k":6,"E":3.34,"R":-15.25},{"k":6,"E":3.38,"R":-14.8},{"k":6,"E":3.42,"R":-14.45},{"k":6,"E":3.46,"R":-14.0},{"k":6,"E":3.5,"R":-13.45},{"k":6,"E":3.54,"R":-13.0},{"k":6,"E":3.58,"R":-12.6},{"k":6,"E":3.62,"R":-12.2},{"k":6,"E":3.66,"R":-11.8},{"k":6,"E":3.7,"R":-11.45},{"k":6,"E":3.74,"R":-11.2},{"k":6,"E":3.78,"R":-10.9},{"k":6,"E":3.82,"R":-10.7},{"k":6,"E":3.86,"R":-10.45},{"k":6,"E":3.9,"R":-10.2},{"k":6,"E":3.94,"R":-9.95},{"k":6,"E":3.98,"R":-9.75},{"k":6,"E":4.02,"R":-9.5},{"k":6,"E":4.06,"R":-9.3},{"k":6,"E":4.1,"R":-9.0},{"k":6,"E":4.14,"R":-8.8},{"k":6,"E":4.18,"R":-8.6},{"k":6,"E":4.22,"R":-8.4},{"k":6,"E":4.26,"R":-8.3},{"k":6,"E":4.3,"R":-8.2},{"k":6,"E":4.34,"R":-8.1},{"k":6,"E":4.38,"R":-8.15},
{"k":6,"E":4.42,"R":-8.0},{"k":6,"E":4.45,"R":-7.85},{"k":6,"E":4.48,"R":-8.1},{"k":6,"E":4.51,"R":-7.9},{"k":6,"E":4.54,"R":-7.8},{"k":6,"E":4.57,"R":-7.95},{"k":6,"E":4.6,"R":-7.7},{"k":6,"E":4.63,"R":-7.85},{"k":6,"E":4.66,"R":-8.05},{"k":6,"E":4.69,"R":-8.25},{"k":6,"E":4.71,"R":-7.95},{"k":6,"E":4.74,"R":-8.3},{"k":6,"E":4.77,"R":-8.15},{"k":6,"E":4.8,"R":-8.45},{"k":6,"E":4.82,"R":-8.8},{"k":6,"E":4.84,"R":-8.15},{"k":6,"E":4.86,"R":-8.4},{"k":6,"E":4.89,"R":-8.05},{"k":6,"E":4.92,"R":-7.85},{"k":6,"E":4.94,"R":-8.2},{"k":6,"E":4.97,"R":-7.75},{"k":6,"E":5.0,"R":-7.95},{"k":6,"E":5.02,"R":-7.5},{"k":6,"E":5.05,"R":-7.4},{"k":6,"E":5.08,"R":-7.7},{"k":6,"E":5.1,"R":-7.15},{"k":6,"E":5.13,"R":-7.4},{"k":6,"E":5.16,"R":-6.95},{"k":6,"E":5.18,"R":-7.25},{"k":6,"E":5.21,"R":-6.9},{"k":6,"E":5.24,"R":-6.75},{"k":6,"E":5.26,"R":-7.05},{"k":6,"E":5.29,"R":-6.45},{"k":6,"E":5.31,"R":-6.6},{"k":6,"E":5.34,"R":-6.1},{"k":6,"E":5.36,"R":-6.55},{"k":6,"E":5.39,"R":-5.85},{"k":6,"E":5.41,"R":-6.25},{"k":6,"E":5.43,"R":-5.6},{"k":6,"E":5.45,"R":-5.95},{"k":6,"E":5.47,"R":-7.1},{"k":6,"E":5.49,"R":-5.5},{"k":6,"E":5.51,"R":-5.25},{"k":6,"E":5.53,"R":-6.0},{"k":6,"E":5.55,"R":-7.3},{"k":6,"E":5.57,"R":-4.8},{"k":6,"E":5.59,"R":-4.0},{"k":6,"E":5.61,"R":-5.2},{"k":6,"E":5.63,"R":-4.4},{"k":6,"E":5.65,"R":-5.3},{"k":6,"E":5.67,"R":-3.4},{"k":6,"E":5.69,"R":-4.6},{"k":6,"E":5.71,"R":-3.8},{"k":6,"E":5.73,"R":-4.7},{"k":6,"E":5.74,"R":-4.2}
],
"d": [{"E":1.27,"R":-11.1},{"E":1.3,"R":-11.3},{"E":1.33,"R":-11.0},{"E":1.36,"R":-11.25},{"E":1.39,"R":-11.05},{"E":1.42,"R":-11.35},{"E":1.45,"R":-11.1},{"E":1.48,"R":-10.95},{"E":1.51,"R":-11.3},{"E":1.54,"R":-11.15},{"E":1.57,"R":-11.4},{"E":1.6,"R":-11.2},{"E":1.63,"R":-11.45},{"E":1.66,"R":-11.3},{"E":1.69,"R":-11.5},{"E":1.72,"R":-11.35},{"E":1.75,"R":-11.5},{"E":1.78,"R":-11.4},{"E":1.81,"R":-11.5},{"E":1.84,"R":-11.45},{"E":1.87,"R":-11.55},{"E":1.9,"R":-11.5},{"E":1.93,"R":-11.45},{"E":1.96,"R":-11.6},{"E":1.99,"R":-11.5},{"E":2.02,"R":-11.65},{"E":2.05,"R":-11.8},{"E":2.08,"R":-11.95},{"E":2.11,"R":-12.15},{"E":2.14,"R":-12.25},{"E":2.17,"R":-12.45},{"E":2.2,"R":-12.55},{"E":2.23,"R":-12.8},{"E":2.26,"R":-12.6},{"E":2.28,"R":-13.1},{"E":2.31,"R":-12.85},{"E":2.34,"R":-13.0},{"E":2.36,"R":-12.75},{"E":2.38,"R":-13.4},{"E":2.41,"R":-13.9},{"E":2.44,"R":-14.3},{"E":2.47,"R":-14.6},{"E":2.5,"R":-14.7},{"E":2.53,"R":-14.8},{"E":2.56,"R":-15.2},{"E":2.58,"R":-15.95},{"E":2.6,"R":-15.1},{"E":2.63,"R":-15.05},{"E":2.65,"R":-14.5},{"E":2.67,"R":-14.9},{"E":2.7,"R":-15.2},{"E":2.73,"R":-15.4},{"E":2.76,"R":-15.5},{"E":2.79,"R":-15.65},{"E":2.82,"R":-15.7},{"E":2.85,"R":-15.75},{"E":2.88,"R":-15.8},{"E":2.91,"R":-15.75},{"E":2.94,"R":-15.7},{"E":2.97,"R":-15.5},{"E":3.0,"R":-15.35},{"E":3.03,"R":-15.45},{"E":3.06,"R":-15.55},{"E":3.08,"R":-15.2},{"E":3.11,"R":-14.9},{"E":3.14,"R":-14.75},{"E":3.17,"R":-14.55},{"E":3.2,"R":-14.35},{"E":3.23,"R":-14.15},{"E":3.26,"R":-13.95},{"E":3.29,"R":-13.7},{"E":3.32,"R":-13.5},{"E":3.35,"R":-13.3},{"E":3.38,"R":-13.05},{"E":3.41,"R":-12.8},{"E":3.44,"R":-12.5},{"E":3.47,"R":-12.2},{"E":3.5,"R":-11.95},{"E":3.53,"R":-11.65},{"E":3.56,"R":-11.4},{"E":3.59,"R":-11.0},{"E":3.62,"R":-10.75},{"E":3.65,"R":-10.5},{"E":3.68,"R":-10.3},{"E":3.71,"R":-10.05},{"E":3.74,"R":-9.8},{"E":3.77,"R":-9.65},{"E":3.8,"R":-9.6},{"E":3.83,"R":-9.4},{"E":3.86,"R":-9.1},{"E":3.89,"R":-8.85},{"E":3.92,"R":-8.6},{"E":3.95,"R":-8.35},{"E":3.98,"R":-8.15},{"E":4.01,"R":-7.95},{"E":4.04,"R":-7.8},{"E":4.07,"R":-7.6},{"E":4.1,"R":-7.45},{"E":4.13,"R":-7.3},{"E":4.16,"R":-7.2},{"E":4.19,"R":-7.1},{"E":4.22,"R":-6.95},{"E":4.25,"R":-6.85},{"E":4.28,"R":-6.75},{"E":4.31,"R":-6.6},{"E":4.34,"R":-6.55},{"E":4.37,"R":-6.5},{"E":4.4,"R":-6.4},{"E":4.43,"R":-6.3},{"E":4.46,"R":-6.35},{"E":4.49,"R":-6.2},{"E":4.52,"R":-6.3},{"E":4.55,"R":-6.15},{"E":4.58,"R":-6.25},{"E":4.61,"R":-6.3},{"E":4.64,"R":-6.2},{"E":4.67,"R":-6.4},{"E":4.7,"R":-6.3},{"E":4.73,"R":-6.45},{"E":4.76,"R":-6.35},{"E":4.79,"R":-6.5},{"E":4.82,"R":-6.2},{"E":4.85,"R":-6.45},{"E":4.88,"R":-6.1},{"E":4.91,"R":-6.35},{"E":4.94,"R":-6.0},{"E":4.97,"R":-6.2},{"E":5.0,"R":-5.9},{"E":5.03,"R":-6.3},{"E":5.06,"R":-5.7},{"E":5.09,"R":-6.0},{"E":5.12,"R":-5.6},{"E":5.15,"R":-6.0},{"E":5.18,"R":-5.5},{"E":5.21,"R":-6.5},{"E":5.24,"R":-5.4},{"E":5.27,"R":-5.7},{"E":5.3,"R":-5.2},{"E":5.33,"R":-5.5},{"E":5.36,"R":-5.0},{"E":5.39,"R":-5.3},{"E":5.42,"R":-4.8},{"E":5.45,"R":-5.1},{"E":5.48,"R":-4.7},{"E":5.51,"R":-5.0},{"E":5.53,"R":-4.6},{"E":5.56,"R":-5.3}],
"eg": [{"E":1.29,"R":-11.0},{"E":1.35,"R":-11.05},{"E":1.41,"R":-11.0},{"E":1.47,"R":-11.0},{"E":1.53,"R":-10.95},{"E":1.59,"R":-10.9},{"E":1.65,"R":-10.9},{"E":1.71,"R":-10.85},{"E":1.77,"R":-10.9},{"E":1.83,"R":-10.95},{"E":1.89,"R":-11.0},{"E":1.95,"R":-11.1},{"E":2.01,"R":-11.25},{"E":2.07,"R":-11.45},{"E":2.13,"R":-11.7},{"E":2.19,"R":-11.95},{"E":2.25,"R":-12.2},{"E":2.31,"R":-12.45},{"E":2.37,"R":-12.7},{"E":2.43,"R":-13.05},{"E":2.49,"R":-13.5},{"E":2.55,"R":-13.95},{"E":2.61,"R":-14.3},{"E":2.66,"R":-14.45},{"E":2.7,"R":-14.7},{"E":2.76,"R":-14.85},{"E":2.82,"R":-15.0},{"E":2.88,"R":-15.1},{"E":2.94,"R":-15.1},{"E":3.0,"R":-15.0},{"E":3.06,"R":-14.8},{"E":3.12,"R":-14.55},{"E":3.18,"R":-14.2},{"E":3.24,"R":-13.8},{"E":3.3,"R":-13.35},{"E":3.36,"R":-12.9},{"E":3.42,"R":-12.45},{"E":3.48,"R":-11.95},{"E":3.54,"R":-11.45},{"E":3.6,"R":-10.95},{"E":3.66,"R":-10.5},{"E":3.72,"R":-10.1},{"E":3.78,"R":-9.75},{"E":3.84,"R":-9.4},{"E":3.9,"R":-9.05},{"E":3.96,"R":-8.7},{"E":4.02,"R":-8.35},{"E":4.08,"R":-8.05},{"E":4.14,"R":-7.75},{"E":4.2,"R":-7.45},{"E":4.26,"R":-7.25},{"E":4.32,"R":-7.1},{"E":4.38,"R":-7.0},{"E":4.44,"R":-7.0},{"E":4.5,"R":-7.05},{"E":4.56,"R":-7.0},{"E":4.62,"R":-7.05},{"E":4.68,"R":-7.1},{"E":4.74,"R":-7.2},{"E":4.8,"R":-7.15},{"E":4.86,"R":-7.1},{"E":4.92,"R":-6.95},{"E":4.98,"R":-6.7},{"E":5.04,"R":-6.5},{"E":5.1,"R":-6.2},{"E":5.16,"R":-6.0},{"E":5.22,"R":-5.7},{"E":5.28,"R":-5.4},{"E":5.34,"R":-5.1},{"E":5.4,"R":-4.8},{"E":5.46,"R":-4.5},{"E":5.52,"R":-4.3},{"E":5.58,"R":-4.2},{"E":5.64,"R":-4.6},{"E":5.7,"R":-5.0},{"E":5.73,"R":-5.4}],
"ek": [{"E":1.29,"R":-10.85},{"E":1.32,"R":-10.7},{"E":1.35,"R":-10.95},{"E":1.38,"R":-10.75},{"E":1.41,"R":-10.9},{"E":1.44,"R":-10.7},{"E":1.47,"R":-10.85},{"E":1.5,"R":-10.65},{"E":1.53,"R":-10.8},{"E":1.56,"R":-10.6},{"E":1.59,"R":-10.8},{"E":1.62,"R":-10.65},{"E":1.65,"R":-10.75},{"E":1.68,"R":-10.55},{"E":1.71,"R":-10.7},{"E":1.74,"R":-10.6},{"E":1.77,"R":-10.7},{"E":1.8,"R":-10.75},{"E":1.83,"R":-10.7},{"E":1.86,"R":-10.8},{"E":1.89,"R":-10.75},{"E":1.92,"R":-10.85},{"E":1.95,"R":-10.9},{"E":1.98,"R":-11.0},{"E":2.01,"R":-11.05},{"E":2.04,"R":-11.2},{"E":2.07,"R":-11.3},{"E":2.1,"R":-11.45},{"E":2.13,"R":-11.6},{"E":2.16,"R":-11.75},{"E":2.19,"R":-11.9},{"E":2.22,"R":-12.05},{"E":2.25,"R":-12.15},{"E":2.28,"R":-12.3},{"E":2.31,"R":-12.45},{"E":2.34,"R":-12.55},{"E":2.37,"R":-12.75},{"E":2.4,"R":-12.9},{"E":2.43,"R":-13.15},{"E":2.46,"R":-13.4},{"E":2.49,"R":-13.7},{"E":2.52,"R":-13.95},{"E":2.55,"R":-14.2},{"E":2.58,"R":-14.45},{"E":2.6,"R":-14.8},{"E":2.62,"R":-14.5},{"E":2.64,"R":-14.85},{"E":2.67,"R":-14.9},{"E":2.7,"R":-14.95},{"E":2.73,"R":-15.0},{"E":2.76,"R":-15.1},{"E":2.79,"R":-15.15},{"E":2.82,"R":-15.2},{"E":2.85,"R":-15.25},{"E":2.88,"R":-15.3},{"E":2.91,"R":-15.35},{"E":2.94,"R":-15.35},{"E":2.97,"R":-15.3},{"E":3.0,"R":-15.25},{"E":3.03,"R":-15.15},{"E":3.06,"R":-15.05},{"E":3.09,"R":-14.95},{"E":3.12,"R":-14.75},{"E":3.15,"R":-14.55},{"E":3.18,"R":-14.35},{"E":3.21,"R":-14.2},{"E":3.24,"R":-14.0},{"E":3.27,"R":-13.75},{"E":3.3,"R":-13.5},{"E":3.33,"R":-13.3},{"E":3.36,"R":-13.05},{"E":3.39,"R":-12.85},{"E":3.42,"R":-12.6},{"E":3.45,"R":-12.35},{"E":3.48,"R":-12.1},{"E":3.51,"R":-11.85},{"E":3.54,"R":-11.6},{"E":3.57,"R":-11.35},{"E":3.6,"R":-11.1},{"E":3.63,"R":-10.9},{"E":3.66,"R":-10.7},{"E":3.69,"R":-10.5},{"E":3.72,"R":-10.3},{"E":3.75,"R":-10.1},{"E":3.78,"R":-9.9},{"E":3.81,"R":-9.7},{"E":3.84,"R":-9.55},{"E":3.87,"R":-9.35},{"E":3.9,"R":-9.15},{"E":3.93,"R":-8.95},{"E":3.96,"R":-8.8},{"E":3.99,"R":-8.6},{"E":4.02,"R":-8.4},{"E":4.05,"R":-8.25},{"E":4.08,"R":-8.1},{"E":4.11,"R":-7.95},{"E":4.14,"R":-7.8},{"E":4.17,"R":-7.65},{"E":4.2,"R":-7.5},{"E":4.23,"R":-7.4},{"E":4.26,"R":-7.3},{"E":4.29,"R":-7.2},{"E":4.32,"R":-7.1},{"E":4.35,"R":-7.05},{"E":4.38,"R":-6.95},{"E":4.41,"R":-7.05},{"E":4.44,"R":-6.9},{"E":4.47,"R":-7.1},{"E":4.5,"R":-6.9},{"E":4.53,"R":-7.15},{"E":4.56,"R":-6.95},{"E":4.59,"R":-7.2},{"E":4.62,"R":-6.9},{"E":4.65,"R":-7.15},{"E":4.68,"R":-7.0},{"E":4.71,"R":-7.3},{"E":4.74,"R":-6.95},{"E":4.77,"R":-7.25},{"E":4.8,"R":-7.0},{"E":4.83,"R":-7.35},{"E":4.86,"R":-6.9},{"E":4.89,"R":-7.2},{"E":4.92,"R":-6.8},{"E":4.95,"R":-7.1},{"E":4.98,"R":-6.6},{"E":5.01,"R":-6.9},{"E":5.04,"R":-6.4},{"E":5.07,"R":-6.7},{"E":5.1,"R":-6.1},{"E":5.13,"R":-6.5},{"E":5.16,"R":-5.9},{"E":5.19,"R":-6.4},{"E":5.22,"R":-5.6},{"E":5.25,"R":-6.0},{"E":5.28,"R":-5.3},{"E":5.31,"R":-5.8},{"E":5.34,"R":-5.0},{"E":5.37,"R":-5.5},{"E":5.4,"R":-4.5},{"E":5.43,"R":-5.2},{"E":5.46,"R":-4.0},{"E":5.49,"R":-4.8},{"E":5.52,"R":-3.6},{"E":5.55,"R":-4.6},{"E":5.58,"R":-3.1},{"E":5.61,"R":-4.4},{"E":5.64,"R":-3.5},{"E":5.67,"R":-4.7},{"E":5.7,"R":-3.8},{"E":5.73,"R":-4.3}]
},
"spacing": 32,
"vconcat": [
 {"bounds": "flush", "spacing": 108, "hconcat": [
  {"width": 237, "height": 300,
   "resolve": {"axis": {"x": "independent", "y": "independent"}},
   "layer": [
    {"data": {"name": "a"}, "mark": {"type": "line", "color": "black", "strokeWidth": 2.2, "clip": true},
     "encoding": {
      "x": {"field": "E", "type": "quantitative", "scale": {"domain": [1.31, 5.55], "nice": false, "zero": false},
            "axis": {"orient": "bottom", "title": "photon energy (eV)", "values": [1.5,2,2.5,3,3.5,4,4.5,5,5.5], "labelExpr": "datum.value % 1 === 0 ? format(datum.value, '.1f') : ''", "tickSize": -5, "labelPadding": 12, "labelFontSize": 20, "titleFontSize": 24, "minExtent": 27, "maxExtent": 27, "titlePadding": 16}},
      "y": {"field": "R", "type": "quantitative", "scale": {"domain": [-28.1, 2.2], "nice": false, "zero": false},
            "axis": {"orient": "left", "title": "10³ Re(Δr/r)", "values": [-26,-24,-22,-20,-18,-16,-14,-12,-10,-8,-6,-4,-2,0], "labelExpr": "datum.value % 8 === 0 ? '' + datum.value : ''", "tickSize": -5, "labelPadding": 10, "labelFontSize": 20, "titleFontSize": 27, "minExtent": 32, "maxExtent": 32, "titlePadding": 4}}
     }},
    {"data": {"values": [{"E": 1.58, "R": -1.8, "t": "(a) α-phase"}]}, "mark": {"type": "text", "align": "left", "baseline": "middle", "fontSize": 35, "font": "DejaVu Serif", "color": "black"},
     "encoding": {
      "x": {"field": "E", "type": "quantitative", "scale": {"domain": [1.31, 5.55], "nice": false, "zero": false}, "axis": {"orient": "top", "title": null, "labels": false, "values": [1.5,2,2.5,3,3.5,4,4.5,5,5.5], "tickSize": -5}},
      "y": {"field": "R", "type": "quantitative", "scale": {"domain": [-28.1, 2.2], "nice": false, "zero": false}, "axis": {"orient": "right", "title": null, "labels": false, "values": [-26,-24,-22,-20,-18,-16,-14,-12,-10,-8,-6,-4,-2,0], "tickSize": -5}},
      "text": {"field": "t"}
     }},
    {"data": {"values": [{"E": 4.48, "R": -11.95, "t": "S"}]}, "mark": {"type": "text", "align": "left", "baseline": "middle", "fontSize": 30, "fontStyle": "italic", "font": "DejaVu Serif", "color": "black"},
     "encoding": {"x": {"field": "E", "type": "quantitative", "axis": null}, "y": {"field": "R", "type": "quantitative", "axis": null}, "text": {"field": "t"}}},
    {"data": {"values": [{"E": 4.9, "R": -13.0, "t": "α"}]}, "mark": {"type": "text", "align": "left", "baseline": "middle", "fontSize": 19, "fontStyle": "italic", "font": "DejaVu Serif", "color": "black"},
     "encoding": {"x": {"field": "E", "type": "quantitative", "axis": null}, "y": {"field": "R", "type": "quantitative", "axis": null}, "text": {"field": "t"}}}
   ]},
  {"width": 235, "height": 300,
   "resolve": {"axis": {"x": "independent", "y": "independent"}},
   "layer": [
    {"data": {"name": "b"}, "mark": {"type": "line", "color": "black", "strokeWidth": 2.2, "clip": true},
     "encoding": {
      "x": {"field": "E", "type": "quantitative", "scale": {"domain": [1.33, 5.68], "nice": false, "zero": false},
            "axis": {"orient": "bottom", "title": "photon energy (eV)", "values": [1.5,2,2.5,3,3.5,4,4.5,5,5.5], "labelExpr": "datum.value % 1 === 0 ? format(datum.value, '.1f') : ''", "tickSize": -5, "labelPadding": 12, "labelFontSize": 20, "titleFontSize": 24, "minExtent": 27, "maxExtent": 27, "titlePadding": 16}},
      "y": {"field": "R", "type": "quantitative", "scale": {"domain": [-28.1, 2.2], "nice": false, "zero": false},
            "axis": {"orient": "left", "title": "10³ Re(Δr/r)", "values": [-26,-24,-22,-20,-18,-16,-14,-12,-10,-8,-6,-4,-2,0], "labelExpr": "datum.value % 8 === 0 ? '' + datum.value : ''", "tickSize": -5, "labelPadding": 14, "labelFontSize": 20, "titleFontSize": 27, "minExtent": 36, "maxExtent": 36, "titlePadding": 0}}
     }},
    {"data": {"values": [{"E": 1.66, "R": -1.8, "t": "(b) β-phase"}]}, "mark": {"type": "text", "align": "left", "baseline": "middle", "fontSize": 35, "font": "DejaVu Serif", "color": "black"},
     "encoding": {
      "x": {"field": "E", "type": "quantitative", "scale": {"domain": [1.33, 5.68], "nice": false, "zero": false}, "axis": {"orient": "top", "title": null, "labels": false, "values": [1.5,2,2.5,3,3.5,4,4.5,5,5.5], "tickSize": -5}},
      "y": {"field": "R", "type": "quantitative", "scale": {"domain": [-28.1, 2.2], "nice": false, "zero": false}, "axis": {"orient": "right", "title": null, "labels": false, "values": [-26,-24,-22,-20,-18,-16,-14,-12,-10,-8,-6,-4,-2,0], "tickSize": -5}},
      "text": {"field": "t"}
     }},
    {"data": {"values": [{"E": 3.13, "R": -11.8, "t": "S"}]}, "mark": {"type": "text", "align": "left", "baseline": "middle", "fontSize": 30, "fontStyle": "italic", "font": "DejaVu Serif", "color": "black"},
     "encoding": {"x": {"field": "E", "type": "quantitative", "axis": null}, "y": {"field": "R", "type": "quantitative", "axis": null}, "text": {"field": "t"}}},
    {"data": {"values": [{"E": 3.49, "R": -13.1, "t": "β"}]}, "mark": {"type": "text", "align": "left", "baseline": "middle", "fontSize": 19, "fontStyle": "italic", "font": "DejaVu Serif", "color": "black"},
     "encoding": {"x": {"field": "E", "type": "quantitative", "axis": null}, "y": {"field": "R", "type": "quantitative", "axis": null}, "text": {"field": "t"}}}
   ]}
 ]},
 {"bounds": "flush", "spacing": 0, "hconcat": [
  {"width": 32, "height": 10, "view": {"stroke": null}, "data": {"values": [{"v": 0}]}, "mark": {"type": "text", "text": ""}, "encoding": {}},
  {"width": 548, "height": 521,
   "resolve": {"axis": {"x": "independent", "y": "independent"}},
   "layer": [
    {"data": {"name": "c"}, "mark": {"type": "line", "strokeWidth": 2.6, "clip": true},
     "encoding": {
      "x": {"field": "E", "type": "quantitative", "scale": {"domain": [1.303, 5.743], "nice": false, "zero": false},
            "axis": {"orient": "bottom", "title": "photon energy (eV)", "values": [1.5,2,2.5,3,3.5,4,4.5,5,5.5], "format": ".1f", "tickSize": -7, "labelPadding": 20, "labelFontSize": 25, "titleFontSize": 32, "minExtent": 38, "maxExtent": 38, "titlePadding": 25}},
      "y": {"field": "R", "type": "quantitative", "scale": {"domain": [-22.19, -0.83], "nice": false, "zero": false},
            "axis": {"orient": "left", "title": "10³ Re(Δr/r)", "titleY": 271, "values": [-22,-21,-20,-19,-18,-17,-16,-15,-14,-13,-12,-11,-10,-9,-8,-7,-6,-5,-4,-3,-2], "labelExpr": "(datum.value % 2 === 0 && datum.value >= -20 && datum.value <= -4) ? '' + datum.value : ''", "tickSize": -7, "labelPadding": 16, "labelFontSize": 25, "titleFontSize": 32, "minExtent": 42, "maxExtent": 42, "titlePadding": 21}},
      "color": {"field": "k", "type": "ordinal", "scale": {"domain": [1,2,3,4,5,6], "range": ["#959595","#7b7b7b","#5e5e5e","#474747","#2b2b2b","#050505"]}, "legend": null}
     }},
    {"data": {"values": [{"E": 2.92}]}, "mark": {"type": "rule", "color": "black", "strokeWidth": 2.5, "strokeDash": [13, 10]},
     "encoding": {"x": {"field": "E", "type": "quantitative", "axis": null}}},
    {"data": {"values": [{"E": 3.96, "R": -16.3, "R2": -11.5}]}, "mark": {"type": "rule", "color": "black", "strokeWidth": 2.8},
     "encoding": {"x": {"field": "E", "type": "quantitative", "axis": null}, "y": {"field": "R", "type": "quantitative", "axis": null}, "y2": {"field": "R2"}}},
    {"data": {"values": [{"E": 3.96, "R": -11.15}]}, "mark": {"type": "point", "shape": "M0,-1L0.58,1L-0.58,1Z", "size": 729, "filled": true, "color": "black", "opacity": 1},
     "encoding": {"x": {"field": "E", "type": "quantitative", "axis": null}, "y": {"field": "R", "type": "quantitative", "axis": null}}},
    {"data": {"values": [{"E": 1.47, "R": -2.48, "t": "(c)"}]}, "mark": {"type": "text", "align": "left", "baseline": "middle", "fontSize": 37, "font": "DejaVu Serif", "color": "black"},
     "encoding": {
      "x": {"field": "E", "type": "quantitative", "scale": {"domain": [1.303, 5.743], "nice": false, "zero": false}, "axis": {"orient": "top", "title": null, "labels": false, "values": [1.5,2,2.5,3,3.5,4,4.5,5,5.5], "tickSize": -7}},
      "y": {"field": "R", "type": "quantitative", "scale": {"domain": [-22.19, -0.83], "nice": false, "zero": false}, "axis": {"orient": "right", "title": null, "labels": false, "values": [-22,-21,-20,-19,-18,-17,-16,-15,-14,-13,-12,-11,-10,-9,-8,-7,-6,-5,-4,-3,-2], "tickSize": -7}},
      "text": {"field": "t"}
     }},
    {"data": {"values": [{"E": 3.15, "R": -6.9, "t": "50°C"}]}, "mark": {"type": "text", "align": "left", "baseline": "middle", "fontSize": 26, "font": "DejaVu Serif", "color": "#8a8a8a"},
     "encoding": {"x": {"field": "E", "type": "quantitative", "axis": null}, "y": {"field": "R", "type": "quantitative", "axis": null}, "text": {"field": "t"}}},
    {"data": {"values": [{"E": 3.15, "R": -17.85, "t": "18°C"}, {"E": 4.12, "R": -14.3, "t": "increasing T"}]}, "mark": {"type": "text", "align": "left", "baseline": "middle", "fontSize": 26, "font": "DejaVu Serif", "color": "black"},
     "encoding": {"x": {"field": "E", "type": "quantitative", "axis": null}, "y": {"field": "R", "type": "quantitative", "axis": null}, "text": {"field": "t"}}}
   ]}
 ]},
 {"bounds": "flush", "spacing": 0, "hconcat": [
  {"width": 290, "height": 273,
   "resolve": {"axis": {"x": "independent", "y": "independent"}},
   "layer": [
    {"data": {"name": "d"}, "mark": {"type": "line", "color": "black", "strokeWidth": 2.0, "clip": true},
     "encoding": {
      "x": {"field": "E", "type": "quantitative", "scale": {"domain": [1.27, 5.56], "nice": false, "zero": false},
            "axis": {"orient": "bottom", "title": "photon energy (eV)", "values": [1.4,1.6,1.8,2,2.2,2.4,2.6,2.8,3,3.2,3.4,3.6,3.8,4,4.2,4.4,4.6,4.8,5,5.2,5.4], "labelExpr": "abs(datum.value - round(datum.value)) < 0.01 ? format(datum.value, '.1f') : ''", "tickSize": -4, "labelPadding": 14, "labelFontSize": 18, "titleFontSize": 24, "minExtent": 28, "maxExtent": 28, "titlePadding": 3}},
      "y": {"field": "R", "type": "quantitative", "scale": {"domain": [-17.1, -2.9], "nice": false, "zero": false},
            "axis": {"orient": "left", "title": "10³ Re(Δr/r)", "values": [-16,-14,-12,-10,-8,-6,-4], "labelExpr": "datum.value % 4 === 0 ? '' + datum.value : ''", "tickSize": -4, "labelPadding": 10, "labelFontSize": 18, "titleFontSize": 27, "minExtent": 30, "maxExtent": 30, "titlePadding": 8}}
     }},
    {"data": {"values": [{"E": 5.56}]}, "mark": {"type": "rule", "color": "black", "strokeWidth": 3.5},
     "encoding": {"x": {"field": "E", "type": "quantitative", "axis": null}}},
    {"data": {"values": [{"E": 1.52, "R": -4.68, "t": "(d)"}]}, "mark": {"type": "text", "align": "left", "baseline": "middle", "fontSize": 34, "font": "DejaVu Serif", "color": "black"},
     "encoding": {
      "x": {"field": "E", "type": "quantitative", "scale": {"domain": [1.27, 5.56], "nice": false, "zero": false}, "axis": {"orient": "top", "title": null, "labels": false, "values": [1.4,1.6,1.8,2,2.2,2.4,2.6,2.8,3,3.2,3.4,3.6,3.8,4,4.2,4.4,4.6,4.8,5,5.2,5.4], "tickSize": -4}},
      "y": {"field": "R", "type": "quantitative", "scale": {"domain": [-17.1, -2.9], "nice": false, "zero": false}, "axis": {"orient": "right", "title": null, "labels": false, "values": [-16,-14,-12,-10,-8,-6,-4], "tickSize": -4}},
      "text": {"field": "t"}
     }}
   ]},
  {"width": 289, "height": 273,
   "resolve": {"axis": {"x": "independent", "y": "independent"}},
   "layer": [
    {"data": {"name": "eg"}, "mark": {"type": "line", "color": "#666666", "strokeWidth": 4.5, "clip": true},
     "encoding": {
      "x": {"field": "E", "type": "quantitative", "scale": {"domain": [1.29, 5.74], "nice": false, "zero": false},
            "axis": {"orient": "bottom", "title": "photon energy (eV)", "values": [1.4,1.6,1.8,2,2.2,2.4,2.6,2.8,3,3.2,3.4,3.6,3.8,4,4.2,4.4,4.6,4.8,5,5.2,5.4,5.6], "labelExpr": "abs(datum.value - round(datum.value)) < 0.01 ? format(datum.value, '.1f') : ''", "tickSize": -4, "labelPadding": 14, "labelFontSize": 18, "titleFontSize": 24, "minExtent": 28, "maxExtent": 28, "titlePadding": 3}},
      "y": {"field": "R", "type": "quantitative", "scale": {"domain": [-17.1, -2.9], "nice": false, "zero": false},
            "axis": {"orient": "left", "title": null, "labels": false, "values": [-16,-14,-12,-10,-8,-6,-4], "tickSize": -4}}
     }},
    {"data": {"name": "ek"}, "mark": {"type": "line", "color": "black", "strokeWidth": 2.0, "clip": true},
     "encoding": {
      "x": {"field": "E", "type": "quantitative", "scale": {"domain": [1.29, 5.74], "nice": false, "zero": false}, "axis": null},
      "y": {"field": "R", "type": "quantitative", "scale": {"domain": [-17.1, -2.9], "nice": false, "zero": false}, "axis": null}
     }},
    {"data": {"values": [{"E": 1.55, "R": -4.68, "t": "(e)"}]}, "mark": {"type": "text", "align": "left", "baseline": "middle", "fontSize": 34, "font": "DejaVu Serif", "color": "black"},
     "encoding": {
      "x": {"field": "E", "type": "quantitative", "scale": {"domain": [1.29, 5.74], "nice": false, "zero": false}, "axis": {"orient": "top", "title": null, "labels": false, "values": [1.4,1.6,1.8,2,2.2,2.4,2.6,2.8,3,3.2,3.4,3.6,3.8,4,4.2,4.4,4.6,4.8,5,5.2,5.4,5.6], "tickSize": -4}},
      "y": {"field": "R", "type": "quantitative", "scale": {"domain": [-17.1, -2.9], "nice": false, "zero": false}, "axis": {"orient": "right", "title": null, "labels": false, "values": [-16,-14,-12,-10,-8,-6,-4], "tickSize": -4}},
      "text": {"field": "t"}
     }}
   ]}
 ]}
],
"config": {
 "view": {"stroke": "black", "strokeWidth": 2.5},
 "axis": {"grid": false, "domain": false, "tickColor": "black", "tickWidth": 1.6, "labelFont": "Liberation Serif", "labelFontWeight": "bold", "labelColor": "black", "labelFlush": false, "labelOverlap": false, "labelBound": false, "titleFont": "DejaVu Serif", "titleFontWeight": "normal", "titleColor": "black"},
 "text": {"font": "DejaVu Serif"}
}
}
